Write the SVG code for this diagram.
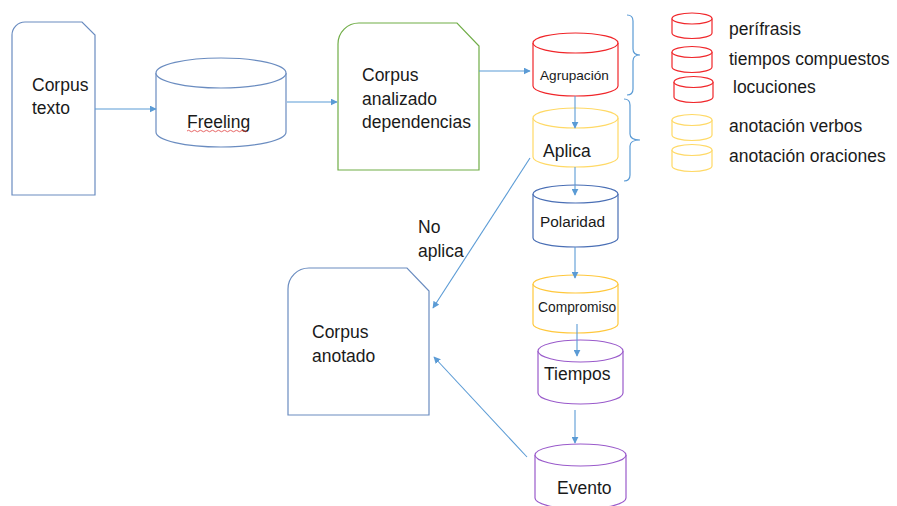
<svg xmlns="http://www.w3.org/2000/svg" width="897" height="506" viewBox="0 0 897 506">
  <defs>
    <marker id="arrow" viewBox="0 0 10 10" refX="9" refY="5" markerWidth="7" markerHeight="7" markerUnits="userSpaceOnUse" orient="auto">
      <path d="M0,0 L10,5 L0,10 Z" fill="#5B9BD5"/>
    </marker>
  </defs>
  <style>
    text { font-family: "Liberation Sans", Arial, sans-serif; fill: #1a1a1a; font-size: 17.5px; }
    .doc { fill: #ffffff; stroke-width: 1.2; }
    .cyl { fill: #ffffff; stroke-width: 1.2; }
    .red { stroke: #F0262A; }
    .yel { stroke: #FFD966; }
    .yel2 { stroke: #FFC83D; }
    .blu { stroke: #4A6FB5; }
    .pur { stroke: #9A5BCB; }
    .gry { stroke: #6A8CC0; }
    .conn line { stroke: #5B9BD5; stroke-width: 1.1; marker-end: url(#arrow); }
    .brace { fill: none; stroke: #5B9BD5; stroke-width: 1.2; }
  </style>

  <rect width="897" height="506" fill="#ffffff"/>

  <!-- documents -->
  <g id="corpus-texto">
    <path class="doc gry" d="M12,35 A13,13 0 0 1 25,22 H82 L95,35 V195 H12 Z"/>
    <text x="32" y="91">Corpus</text>
    <text x="32" y="114">texto</text>
  </g>

  <g id="corpus-analizado">
    <path class="doc" stroke="#70AD47" d="M338,44 A21,21 0 0 1 359,23 H457 L479,46 V170 H338 Z"/>
    <text x="362" y="81">Corpus</text>
    <text x="362" y="105">analizado</text>
    <text x="362" y="128">dependencias</text>
  </g>

  <g id="corpus-anotado">
    <path class="doc gry" d="M288,289 A21,21 0 0 1 309,268 H407 L429,291 V415 H288 Z"/>
    <text x="312" y="338">Corpus</text>
    <text x="312" y="362">anotado</text>
  </g>

  <!-- databases -->
  <g id="freeling">
    <path class="cyl gry" d="M156,73 V132 A65,15 0 0 0 286,132 V73"/>
    <ellipse class="cyl gry" cx="221" cy="73" rx="65" ry="15"/>
    <text x="187" y="128">Freeling</text>
    <path d="M187,131 q1.5,-1.5 3,0 t3,0 t3,0 t3,0 t3,0 t3,0 t3,0 t3,0 t3,0 t3,0 t3,0 t3,0 t3,0 t3,0 t3,0 t3,0 t3,0 t3,0 t3,0 t3,0" fill="none" stroke="#E04040" stroke-width="0.8"/>
  </g>

  <g id="agrupacion">
    <path class="cyl red" d="M533,43 V86 A42.5,10 0 0 0 618,86 V43"/>
    <ellipse class="cyl red" cx="575.5" cy="43" rx="42.5" ry="10"/>
    <text x="540" y="80" style="font-size:13.6px">Agrupación</text>
  </g>

  <g id="aplica">
    <path class="cyl yel" d="M533,118 V157 A42.5,10 0 0 0 618,157 V118"/>
    <ellipse class="cyl yel" cx="575.5" cy="118" rx="42.5" ry="10"/>
    <text x="543" y="157">Aplica</text>
  </g>

  <g id="polaridad">
    <path class="cyl blu" d="M533,194 V238 A42.5,9 0 0 0 618,238 V194"/>
    <ellipse class="cyl blu" cx="575.5" cy="194" rx="42.5" ry="9"/>
    <text x="540" y="227" style="font-size:15.4px">Polaridad</text>
  </g>

  <g id="compromiso">
    <path class="cyl yel2" d="M533,284 V324 A42.5,9 0 0 0 618,324 V284"/>
    <ellipse class="cyl yel2" cx="575.5" cy="284" rx="42.5" ry="9"/>
    <text x="538" y="312" style="font-size:13.8px">Compromiso</text>
  </g>

  <g id="tiempos">
    <path class="cyl pur" d="M538,351 V393 A42.5,11 0 0 0 623,393 V351"/>
    <ellipse class="cyl pur" cx="580.5" cy="351" rx="42.5" ry="11"/>
    <text x="544" y="380">Tiempos</text>
  </g>

  <g id="evento">
    <path class="cyl pur" d="M535,455 V498 A45.5,11 0 0 0 626,498 V455"/>
    <ellipse class="cyl pur" cx="580.5" cy="455" rx="45.5" ry="11"/>
    <text x="557" y="494">Evento</text>
  </g>

  <!-- legend -->
  <g id="leyenda">
    <path class="brace" d="M627,15 Q633,15 633,21 V49 Q633,55 640,55 Q633,55 633,61 V89 Q633,95 627,95"/>
    <path class="brace" d="M624,99 Q630,99 630,105 V134 Q630,140 640,140 Q630,140 630,146 V175 Q630,181 624,181"/>

    <g id="perifrasis">
      <path class="cyl red" d="M672,18.5 V33 A20,5.5 0 0 0 712,33 V18.5"/>
      <ellipse class="cyl red" cx="692" cy="18.5" rx="20" ry="5.5"/>
      <text x="729" y="35">perífrasis</text>
    </g>
    <g id="tiempos-compuestos">
      <path class="cyl red" d="M672,52 V67 A20,5.5 0 0 0 712,67 V52"/>
      <ellipse class="cyl red" cx="692" cy="52" rx="20" ry="5.5"/>
      <text x="729" y="65">tiempos compuestos</text>
    </g>
    <g id="locuciones">
      <path class="cyl red" d="M674,82 V97 A19.5,5.5 0 0 0 713,97 V82"/>
      <ellipse class="cyl red" cx="693.5" cy="82" rx="19.5" ry="5.5"/>
      <text x="733" y="93">locuciones</text>
    </g>
    <g id="anotacion-verbos">
      <path class="cyl yel" d="M672,120 V135 A20,5.5 0 0 0 712,135 V120"/>
      <ellipse class="cyl yel" cx="692" cy="120" rx="20" ry="5.5"/>
      <text x="729" y="132">anotación verbos</text>
    </g>
    <g id="anotacion-oraciones">
      <path class="cyl yel" d="M672,150 V166 A20,5.5 0 0 0 712,166 V150"/>
      <ellipse class="cyl yel" cx="692" cy="150" rx="20" ry="5.5"/>
      <text x="729" y="162">anotación oraciones</text>
    </g>
  </g>

  <!-- connectors -->
  <g id="connectors" class="conn">
    <line x1="95" y1="109" x2="156" y2="109"/>
    <line x1="287" y1="102" x2="337" y2="102"/>
    <line x1="479" y1="71" x2="530" y2="71"/>
    <line x1="575" y1="96" x2="575" y2="128"/>
    <line x1="575" y1="167" x2="575" y2="195"/>
    <line x1="575" y1="247" x2="575" y2="278"/>
    <line x1="577" y1="324" x2="577" y2="356"/>
    <line x1="575" y1="410" x2="575" y2="443"/>
    <line x1="530" y1="158" x2="433" y2="308"/>
    <line x1="527" y1="457" x2="434" y2="357"/>
  </g>

  <g id="no-aplica">
    <text x="418" y="233">No</text>
    <text x="418" y="257">aplica</text>
  </g>
</svg>
